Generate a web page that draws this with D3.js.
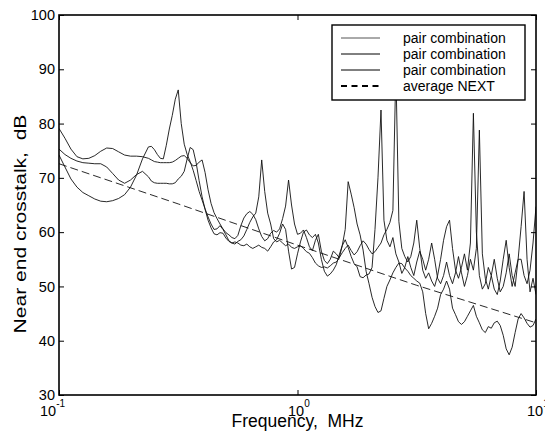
<!DOCTYPE html>
<html><head><meta charset="utf-8">
<script src="https://cdn.jsdelivr.net/npm/d3@7"></script>
<style>
body{margin:0;background:#fff}
svg{display:block}
text{font-family:"Liberation Sans",Arial,Helvetica,sans-serif;fill:#000}
</style>
</head><body>
<svg id="chart" width="545" height="432"></svg>
<script>
// ---------- data ----------
const freqMHz = [
 0.1000,0.1059,0.1122,0.1189,0.1259,0.1334,0.1413,0.1496,0.1585,0.1679,0.1778,0.1884,0.1995,0.2113,0.2239,0.2371,
 0.2441,0.2512,0.2585,0.2661,0.2738,0.2818,0.2901,0.2985,0.3073,0.3162,
 0.3255,0.3350,0.3447,0.3548,0.3652,0.3758,0.3868,0.3981,0.4097,0.4217,
 0.4340,0.4467,0.4597,0.4732,0.4870,0.5012,0.5158,0.5309,0.5464,0.5623,
 0.5788,0.5957,0.6131,0.6310,0.6494,0.6683,0.6879,0.7079,0.7286,0.7499,
 0.7718,0.7943,0.8175,0.8414,0.8660,0.8913,0.9173,0.9441,0.9716,1.000,
 1.029,1.059,1.090,1.122,1.155,1.189,1.223,1.259,1.296,1.334,
 1.372,1.413,1.454,1.496,1.540,1.585,1.631,1.679,1.728,1.778,
 1.830,1.884,1.939,1.995,2.054,2.113,2.175,2.239,2.304,2.371,
 2.441,2.512,2.585,2.661,2.738,2.818,2.901,2.985,3.073,3.162,
 3.255,3.350,3.447,3.548,3.652,3.758,3.868,3.981,4.097,4.217,
 4.340,4.467,4.597,4.732,4.870,5.012,5.158,5.309,5.464,5.623,
 5.788,5.957,6.131,6.310,6.494,6.683,6.879,7.079,7.286,7.499,
 7.718,7.943,8.175,8.414,8.660,8.913,9.173,9.441,9.716,10.00
];

const pairA = [
 79.1,77.3,75.3,73.9,73.5,73.6,74.1,74.9,75.5,75.4,74.8,74.2,74.0,74.0,73.9,73.6,
 73.3,73.0,72.9,72.8,72.8,72.8,72.8,72.9,73.2,73.6,
 74.0,74.1,73.6,72.8,72.2,72.3,72.9,73.3,71.0,67.8,
 65.3,63.6,62.5,61.5,60.6,59.9,59.5,59.0,58.8,59.4,
 61.2,62.6,63.4,63.8,63.3,62.3,60.6,59.2,58.4,58.8,
 59.8,60.3,60.0,60.6,62.5,64.8,69.6,65.0,61.5,59.6,
 59.8,60.4,59.0,57.3,56.6,58.5,59.6,56.5,54.8,54.2,
 55.0,56.5,56.0,55.3,56.2,57.0,57.6,56.6,55.8,56.4,
 57.5,58.4,57.8,56.8,56.0,56.4,57.2,58.0,59.5,60.5,
 61.8,64.0,90.0,62.0,57.0,55.5,54.5,55.5,58.0,62.2,
 57.0,53.0,51.5,52.5,51.0,50.0,52.0,55.0,58.5,61.0,
 62.2,57.0,53.0,51.5,53.5,56.0,53.0,58.0,81.9,60.0,
 52.0,49.5,50.5,53.5,52.0,49.5,48.5,51.0,55.0,58.5,
 53.5,50.0,52.5,55.0,55.0,52.0,50.5,53.0,58.0,64.7
];

const pairB = [
 75.3,74.3,73.6,73.1,72.8,72.7,72.6,72.6,72.0,70.8,69.6,69.0,69.6,70.6,71.2,70.2,
 69.4,69.1,69.0,69.0,69.0,69.0,68.9,68.9,69.1,69.8,
 70.3,71.2,73.5,75.6,75.2,72.8,69.5,66.5,64.2,62.2,
 60.8,59.7,59.5,59.9,59.8,58.9,58.3,58.0,58.2,58.0,
 57.6,57.5,57.8,57.3,57.0,57.3,57.6,57.2,57.0,56.5,
 57.3,58.2,58.6,59.8,61.5,60.5,56.5,53.2,53.5,56.0,
 58.2,60.0,60.4,59.5,59.0,59.6,58.0,55.0,52.8,51.9,
 52.3,53.0,54.0,55.8,57.5,60.5,69.3,67.0,64.5,61.5,
 59.5,56.7,52.8,50.5,48.0,46.3,45.2,45.5,47.8,50.0,
 51.2,52.5,53.5,54.3,54.2,53.4,52.8,52.0,51.5,51.0,
 50.6,49.0,45.0,42.2,43.2,44.5,46.0,48.5,49.5,51.0,
 49.5,46.0,44.8,43.5,43.0,43.5,44.5,45.5,46.5,44.5,
 43.3,42.0,41.5,42.6,42.3,43.3,43.6,42.8,41.0,38.5,
 37.4,38.8,41.5,44.0,45.0,44.2,43.2,42.5,42.8,44.0
];

const pairC = [
 74.2,72.0,69.8,68.3,67.3,66.7,66.1,65.7,65.6,65.8,66.2,66.9,68.3,70.5,73.5,75.7,
 75.8,75.2,74.3,73.6,73.5,76.0,79.0,81.5,84.5,86.2,
 80.0,76.2,74.3,73.0,71.4,69.5,67.5,65.9,64.3,62.8,
 61.5,60.5,60.6,61.2,60.5,59.5,58.4,58.0,57.8,58.3,
 58.6,59.3,60.5,61.8,62.8,63.5,66.5,73.3,67.5,63.5,
 61.5,58.8,58.2,58.5,58.0,57.5,57.8,57.2,57.0,57.3,
 57.5,57.0,56.4,56.1,55.3,54.3,53.8,53.5,53.6,53.4,
 53.8,54.3,54.5,55.2,57.5,58.6,57.2,55.5,54.2,53.6,
 51.8,51.6,52.1,52.3,53.5,60.5,70.0,82.5,62.2,58.5,
 57.3,59.0,56.0,54.5,52.4,53.5,55.5,53.5,52.0,54.5,
 56.5,55.0,53.0,55.0,58.0,55.0,51.5,50.5,52.0,54.5,
 52.0,50.5,52.5,55.5,52.5,50.0,52.0,55.0,53.0,57.0,
 78.8,56.0,51.5,49.5,52.0,55.0,51.5,49.0,50.0,52.5,
 56.0,52.0,50.0,55.0,61.0,67.5,55.0,49.0,51.5,48.5
];

const avgFreqMHz = [0.1, 0.3162, 1, 3.162, 10];
const avgNextDb  = [72.6, 65.2, 57.6, 50.2, 43.3];

const yTicks = [30, 40, 50, 60, 70, 80, 90, 100];
const xTicks = [0.1, 1, 10];
const legendLabels = ["pair combination", "pair combination", "pair combination", "average NEXT"];

// ---------- layout ----------
const L = 59, R = 536, T = 15, B = 395;
const svg = d3.select("#chart");
const x = d3.scaleLog().domain([0.1, 10]).range([L, R]);
const y = d3.scaleLinear().domain([30, 100]).range([B, T]);

svg.append("defs").append("clipPath").attr("id", "plotclip")
  .append("rect").attr("x", L).attr("y", T).attr("width", R - L).attr("height", B - T);

const line = d3.line().x(d => x(d[0])).y(d => y(d[1]));
const plot = svg.append("g").attr("clip-path", "url(#plotclip)");

[pairA, pairB, pairC].forEach(vals => {
  plot.append("path")
    .datum(freqMHz.map((f, i) => [f, vals[i]]))
    .attr("d", line)
    .attr("fill", "none")
    .attr("stroke", "#111")
    .attr("stroke-width", 0.9)
    .attr("stroke-linejoin", "round");
});
plot.append("path")
  .datum(avgFreqMHz.map((f, i) => [f, avgNextDb[i]]))
  .attr("d", line)
  .attr("fill", "none")
  .attr("stroke", "#111")
  .attr("stroke-width", 0.9)
  .attr("stroke-dasharray", "8,4");

// ---------- legend ----------
const lg = svg.append("g");
lg.append("rect").attr("x", 332).attr("y", 25).attr("width", 193).attr("height", 75)
  .attr("fill", "#fff").attr("stroke", "#000").attr("stroke-width", 1.4);
legendLabels.forEach((lab, i) => {
  const cy = 38 + i * 16;
  const ln = lg.append("line").attr("x1", 341).attr("x2", 380).attr("y1", cy).attr("y2", cy)
    .attr("stroke", "#000");
  if (i === 3) ln.attr("stroke-width", 2).attr("stroke-dasharray", "6,4.5");
  else ln.attr("stroke-width", 1).attr("stroke", i === 0 ? "#555" : "#000");
  lg.append("text").attr("x", 403).attr("y", cy + 5).attr("font-size", 14).text(lab);
});

// ---------- axes ----------
const yl = svg.append("g").attr("transform", `translate(${L},0)`)
  .call(d3.axisLeft(y).tickValues(yTicks).tickSize(-5).tickSizeOuter(0).tickPadding(4));
yl.selectAll("text").attr("font-size", 14.5).attr("font-family", null);
const yr = svg.append("g").attr("transform", `translate(${R},0)`)
  .call(d3.axisRight(y).tickValues(yTicks).tickSize(-5).tickSizeOuter(0).tickFormat(""));
const xb = svg.append("g").attr("transform", `translate(0,${B})`)
  .call(d3.axisBottom(x).tickValues(xTicks).tickSize(-5).tickSizeOuter(0).tickFormat(""));
const xt = svg.append("g").attr("transform", `translate(0,${T})`)
  .call(d3.axisTop(x).tickValues(xTicks).tickSize(-5).tickSizeOuter(0).tickFormat(""));
[yl, yr, xb, xt].forEach(g => {
  g.select(".domain").remove();
  g.selectAll("line").attr("stroke", "#000").attr("stroke-width", 1);
});

// x tick labels 10^n
const xOff = {"-1": -19, "0": -9.5, "1": -9};
xTicks.forEach(t => {
  const e = Math.round(Math.log10(t));
  const tx = svg.append("text").attr("x", x(t) + xOff[e]).attr("y", B + 21).attr("font-size", 14.5);
  tx.append("tspan").text("10");
  tx.append("tspan").attr("dy", -9.5).attr("font-size", 10).text(e);
});

svg.append("rect").attr("x", L).attr("y", T).attr("width", R - L).attr("height", B - T)
  .attr("fill", "none").attr("stroke", "#000").attr("stroke-width", 1.6);

// axis titles
svg.append("text").attr("x", (L + R) / 2).attr("y", 427).attr("text-anchor", "middle")
  .attr("font-size", 17.5).style("white-space", "pre").text("Frequency,  MHz");
svg.append("text").attr("transform", "translate(26,224) rotate(-90) scale(1.24,1)")
  .attr("text-anchor", "middle").attr("font-size", 17)
  .style("white-space", "pre").text("Near end crosstalk,  dB");
</script>
</body></html>
